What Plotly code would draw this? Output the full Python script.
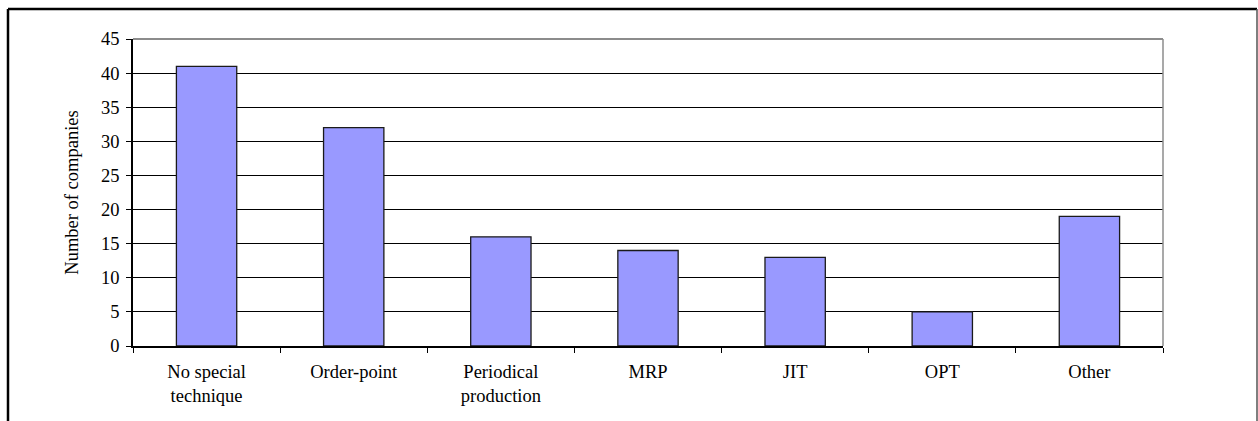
import plotly.graph_objects as go

# Planning techniques used by the surveyed companies
categories = ["No special<br>technique", "Order-point", "Periodical<br>production",
              "MRP", "JIT", "OPT", "Other"]
companies = [41, 32, 16, 14, 13, 5, 19]
y_ticks = [0, 5, 10, 15, 20, 25, 30, 35, 40, 45]

FONT = "Liberation Serif, Times New Roman, serif"
FS = 18.5

fig = go.Figure(
    go.Bar(
        x=categories,
        y=companies,
        marker=dict(color="#9999FF", line=dict(color="#1a1a1a", width=1.3)),
        width=0.41,
        hoverinfo="x+y",
    )
)

W, H = 1258, 421
L, R, T, B = 133, 1163, 39, 346
pw, ph = R - L, B - T


def px(x):
    return (x - L) / pw


def py(y):
    return (B - y) / ph


shapes = [
    # plot-area border on top and right (grey)
    dict(type="line", xref="paper", yref="paper", x0=0, x1=1, y0=1, y1=1,
         line=dict(color="#8c8c8c", width=2), layer="above"),
    dict(type="line", xref="paper", yref="paper", x0=1, x1=1, y0=0, y1=1,
         line=dict(color="#8c8c8c", width=1.5), layer="above"),
    # outer chart frame
    dict(type="line", xref="paper", yref="paper", x0=px(8), x1=px(1257), y0=py(9), y1=py(9),
         line=dict(color="black", width=2.5)),
    dict(type="line", xref="paper", yref="paper", x0=px(8), x1=px(8), y0=py(9), y1=py(440),
         line=dict(color="black", width=2.5)),
    dict(type="line", xref="paper", yref="paper", x0=px(1257), x1=px(1257), y0=py(9), y1=py(440),
         line=dict(color="#555555", width=1.5)),
]

fig.update_layout(
    width=W,
    height=H,
    margin=dict(l=L, r=W - R, t=T, b=H - B, pad=0),
    paper_bgcolor="white",
    plot_bgcolor="white",
    showlegend=False,
    font=dict(family=FONT, size=FS, color="black"),
    shapes=shapes,
    xaxis=dict(
        type="category",
        showline=True,
        linecolor="black",
        linewidth=1.5,
        ticks="outside",
        tickson="boundaries",
        ticklen=5,
        tickcolor="black",
        tickwidth=1,
        showgrid=False,
        tickfont=dict(family=FONT, size=FS),
        ticklabelstandoff=8,
        fixedrange=True,
    ),
    yaxis=dict(
        range=[0, 45],
        tickvals=y_ticks,
        showline=True,
        linecolor="black",
        linewidth=1.5,
        ticks="outside",
        ticklen=5,
        tickcolor="black",
        showgrid=True,
        gridcolor="black",
        gridwidth=1,
        zeroline=False,
        tickfont=dict(family=FONT, size=FS),
        ticklabelstandoff=3,
        title=dict(text="Number of companies", font=dict(family=FONT, size=FS), standoff=18),
        fixedrange=True,
    ),
)

fig.write_html("out.html")
